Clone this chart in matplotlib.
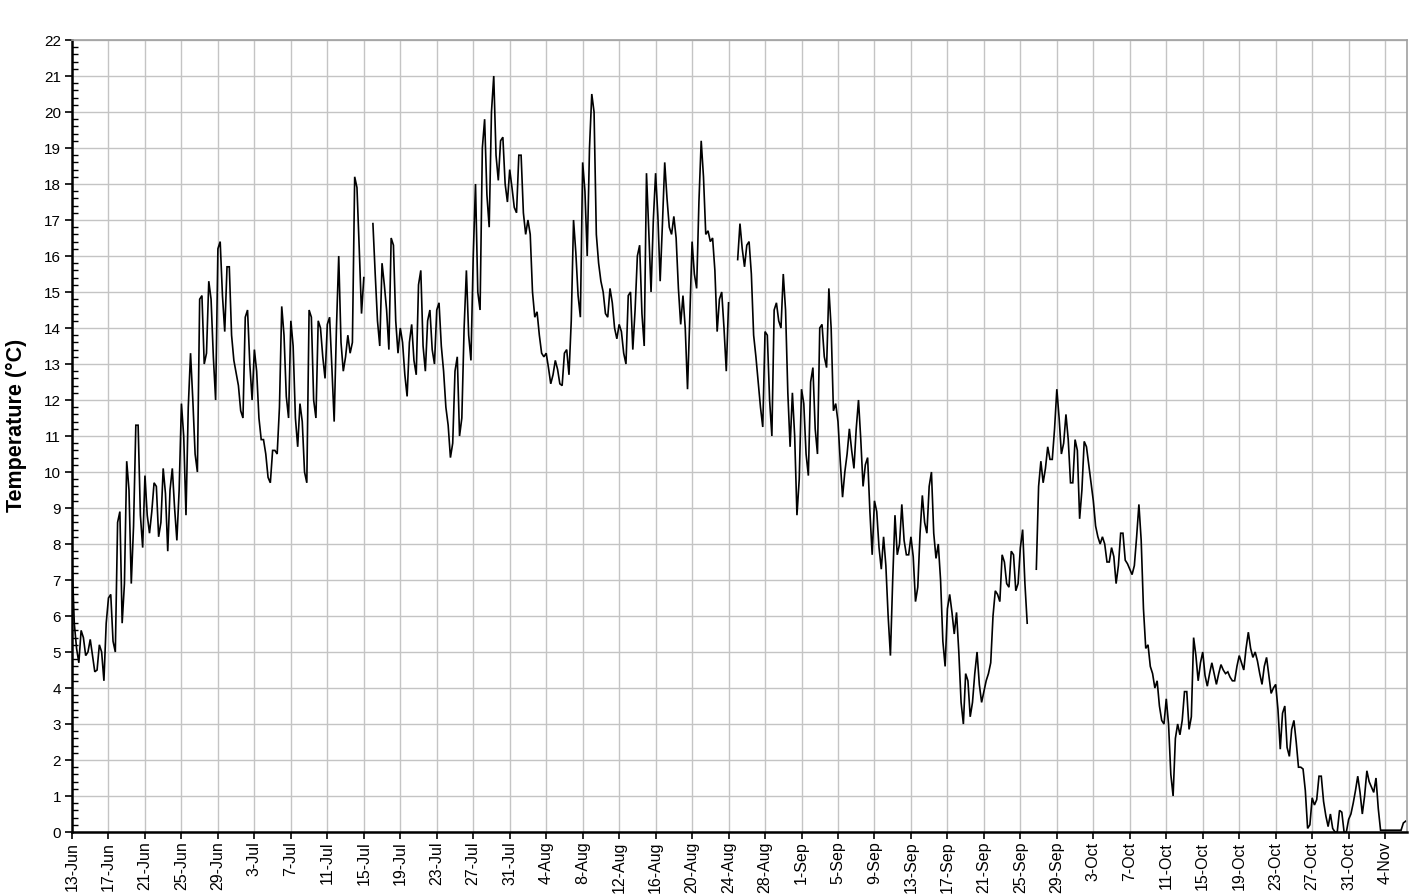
import numpy as np
import pandas as pd
import matplotlib
matplotlib.use("Agg")
import matplotlib.pyplot as plt
from matplotlib.ticker import MultipleLocator

plt.rcParams['font.family'] = ['Liberation Sans', 'DejaVu Sans']

nan = np.nan

# Six-hourly temperature readings (deg C), starting 13 June 00:00
june_temps = [
    7.6, 5.8, 5.1, 4.7,   5.6, 5.4, 4.9, 5.0,   5.35, 4.9, 4.45, 4.5,
    5.2, 5.0, 4.2, 5.8,   6.5, 6.6, 5.3, 5.0,   8.6, 8.9, 5.8, 6.9,
    10.3, 9.5, 6.9, 8.5,  11.3, 11.3, 8.8, 7.9, 9.9, 8.8, 8.3, 8.9,
    9.7, 9.6, 8.2, 8.6,   10.1, 9.4, 7.8, 9.5,  10.1, 9.0, 8.1, 9.5,
    11.9, 11.0, 8.8, 11.8, 13.3, 12.0, 10.5, 10.0, 14.8, 14.9, 13.0, 13.3,
    15.3, 14.8, 13.2, 12.0, 16.2, 16.4, 14.9, 13.9,
]

july_temps = [
    15.7, 15.7, 13.8, 13.1, 12.75, 12.4, 11.7, 11.5, 14.3, 14.5, 13.0, 12.0,
    13.4, 12.8, 11.5, 10.9, 10.9, 10.5, 9.85, 9.7, 10.6, 10.6, 10.5, 11.8,
    14.6, 13.8, 12.1, 11.5, 14.2, 13.5, 11.5, 10.7, 11.9, 11.4, 10.0, 9.7,
    14.5, 14.3, 12.0, 11.5, 14.2, 14.0, 13.2, 12.6, 14.1, 14.3, 12.9, 11.4,
    14.0, 16.0, 13.6, 12.8, 13.2, 13.8, 13.3, 13.6, 18.2, 17.9, 16.2, 14.4,
    15.4, nan, nan, nan,  16.9, 15.5, 14.2, 13.5, 15.8, 15.2, 14.5, 13.4,
    16.5, 16.3, 14.2, 13.3, 14.0, 13.6, 12.7, 12.1, 13.6, 14.1, 13.1, 12.7,
    15.2, 15.6, 13.5, 12.8, 14.2, 14.5, 13.4, 13.0, 14.5, 14.7, 13.5, 12.8,
    11.8, 11.3, 10.4, 10.8, 12.8, 13.2, 11.0, 11.5, 14.0, 15.6, 13.8, 13.1,
    16.0, 18.0, 15.0, 14.5, 19.0, 19.8, 17.7, 16.8, 20.0, 21.0, 18.8, 18.1,
    19.2, 19.3, 18.0, 17.5,
]

august_temps = [
    18.4, 17.9, 17.35, 17.2, 18.8, 18.8, 17.2, 16.6, 17.0, 16.6, 15.0, 14.3,
    14.45, 13.8, 13.3, 13.2, 13.3, 12.9, 12.45, 12.7, 13.1, 12.85, 12.45, 12.4,
    13.3, 13.4, 12.7, 14.2, 17.0, 16.1, 14.9, 14.3, 18.6, 17.8, 16.0, 19.0,
    20.5, 20.0, 16.6, 15.8, 15.3, 15.0, 14.4, 14.3, 15.1, 14.7, 14.0, 13.7,
    14.1, 13.9, 13.3, 13.0, 14.9, 15.0, 13.4, 14.5, 16.0, 16.3, 14.4, 13.5,
    18.3, 16.7, 15.0, 17.0, 18.3, 17.1, 15.3, 16.9, 18.6, 17.6, 16.8, 16.6,
    17.1, 16.5, 15.1, 14.1, 14.9, 14.0, 12.3, 14.3, 16.4, 15.5, 15.1, 17.5,
    19.2, 18.2, 16.6, 16.7, 16.4, 16.5, 15.6, 13.9, 14.8, 15.0, 14.0, 12.8,
    14.7, nan, nan, nan,  15.9, 16.9, 16.2, 15.7, 16.3, 16.4, 15.5, 13.8,
    13.2, 12.5, 11.8, 11.25, 13.9, 13.8, 12.0, 11.0, 14.5, 14.7, 14.2, 14.0,
    15.5, 14.5, 12.2, 10.7,
]

september_temps = [
    12.2, 11.0, 8.8, 9.8,  12.3, 11.9, 10.5, 9.9,  12.5, 12.9, 11.2, 10.5,
    14.0, 14.1, 13.2, 12.9, 15.1, 14.0, 11.7, 11.9, 11.4, 10.3, 9.3, 10.0,
    10.5, 11.2, 10.6, 10.1, 11.2, 12.0, 10.9, 9.6, 10.2, 10.4, 8.9, 7.7,
    9.2, 8.9, 7.9, 7.3,    8.2, 7.4, 6.0, 4.9,    7.0, 8.8, 7.7, 8.0,
    9.1, 8.1, 7.7, 7.7,    8.2, 7.65, 6.4, 6.8,   8.3, 9.35, 8.6, 8.3,
    9.6, 10.0, 8.3, 7.6,   8.0, 7.0, 5.3, 4.6,    6.2, 6.6, 6.1, 5.5,
    6.1, 5.0, 3.6, 3.0,    4.4, 4.2, 3.2, 3.6,    4.4, 5.0, 4.1, 3.6,
    3.9, 4.2, 4.4, 4.7,    6.0, 6.7, 6.6, 6.4,    7.7, 7.5, 6.9, 6.8,
    7.8, 7.7, 6.7, 6.9,    7.9, 8.4, 6.9, 5.8,    nan, nan, nan, 7.3,
    9.6, 10.3, 9.7, 10.1,  10.7, 10.35, 10.35, 11.2, 12.3, 11.5, 10.5, 10.8,
]

october_temps = [
    11.6, 10.9, 9.7, 9.7,  10.9, 10.6, 8.7, 9.5,  10.85, 10.7, 10.2, 9.7,
    9.2, 8.5, 8.2, 8.0,    8.2, 8.0, 7.5, 7.5,    7.9, 7.65, 6.9, 7.4,
    8.3, 8.3, 7.55, 7.45,  7.3, 7.15, 7.4, 8.2,   9.1, 8.1, 6.2, 5.1,
    5.2, 4.6, 4.4, 4.0,    4.2, 3.5, 3.1, 3.0,    3.7, 3.0, 1.6, 1.0,
    2.6, 3.0, 2.7, 3.1,    3.9, 3.9, 2.85, 3.2,   5.4, 4.9, 4.2, 4.7,
    5.0, 4.35, 4.05, 4.4,  4.7, 4.4, 4.1, 4.4,    4.65, 4.5, 4.4, 4.45,
    4.3, 4.2, 4.2, 4.6,    4.9, 4.7, 4.5, 5.1,    5.55, 5.1, 4.85, 5.0,
    4.75, 4.4, 4.1, 4.6,   4.85, 4.35, 3.85, 4.0, 4.1, 3.4, 2.3, 3.3,
    3.5, 2.35, 2.1, 2.85,  3.1, 2.5, 1.8, 1.8,    1.75, 1.15, 0.1, 0.2,
    0.95, 0.75, 0.9, 1.55, 1.55, 0.85, 0.45, 0.15, 0.5, 0.1, 0.0, 0.0,
    0.6, 0.55, 0.0, 0.0,
]

november_temps = [
    0.35, 0.5, 0.8, 1.15,  1.55, 1.1, 0.5, 1.0,   1.7, 1.4, 1.25, 1.1,
    1.5, 0.65, 0.05, 0.05, 0.05, 0.05, 0.05, 0.05, 0.05, 0.05, 0.05, 0.05,
    0.25, 0.3,
]

start = pd.Timestamp("2009-06-13")
temps = np.array(june_temps + july_temps + august_temps + september_temps
                 + october_temps + november_temps, dtype=float)
times = pd.date_range(start, periods=len(temps), freq="6h")

tick_dates = pd.date_range(start, periods=37, freq="4D")
tick_labels = [f"{d.day}-{d.strftime('%b')}" for d in tick_dates]

fig = plt.figure(figsize=(14.16, 8.96), dpi=100)
ax = fig.add_axes([72 / 1416, 64 / 896, 1335 / 1416, 792 / 896])

ax.plot(times, temps, color="black", linewidth=1.2, solid_joinstyle="miter")

ax.set_xlim(start, start + pd.Timedelta(days=146.4))
ax.set_ylim(0, 22)

ax.set_xticks(tick_dates)
ax.set_xticklabels(tick_labels, rotation=90, fontsize=11.5)
ax.yaxis.set_major_locator(MultipleLocator(1))
ax.yaxis.set_minor_locator(MultipleLocator(0.2))
ax.tick_params(axis="y", which="major", labelsize=11, direction="out",
               length=5, width=1.2, pad=3)
ax.tick_params(axis="y", which="minor", direction="in", length=4, width=1.0)
ax.tick_params(axis="x", which="major", direction="out", length=5,
               width=1.2, pad=2)

ax.grid(True, which="major", color="#c4c4c4", linewidth=1.0)
ax.set_axisbelow(True)

for side in ("left", "bottom"):
    ax.spines[side].set_color("black")
    ax.spines[side].set_linewidth(1.8)
for side in ("top", "right"):
    ax.spines[side].set_color("#a0a0a0")
    ax.spines[side].set_linewidth(1.2)

ax.set_ylabel("Temperature (°C)", fontsize=15.5, fontweight="bold")
ax.yaxis.set_label_coords(-0.0337, 0.514)

fig.savefig("out.png", dpi=100)
